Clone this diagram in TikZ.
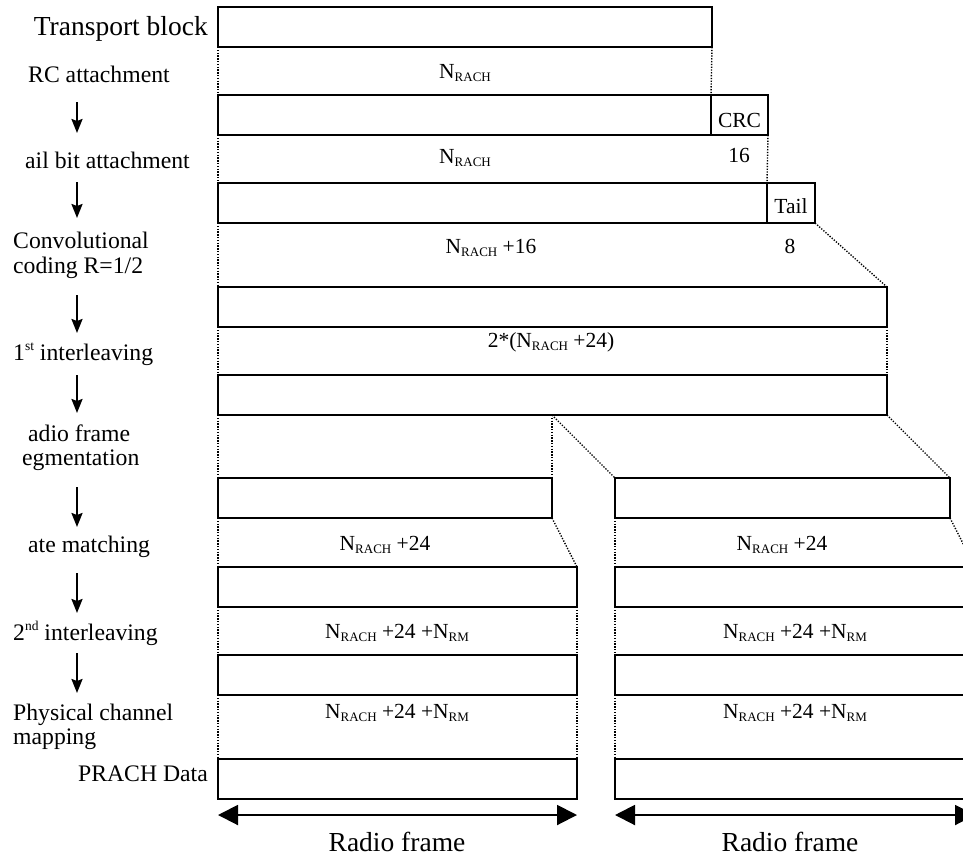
\documentclass[tikz,border=0pt]{standalone}
\usepackage{fontspec}
\setmainfont{Liberation Serif}
\usetikzlibrary{arrows.meta}
\newcommand{\Nx}[1]{N\raisebox{-0.14em}{\fontsize{13}{14}\selectfont #1}}
\newcommand{\supx}[1]{\raisebox{0.42em}{\fontsize{13.5}{14}\selectfont #1}}
\tikzset{
  blk/.style={draw, line width=2pt, inner sep=0pt, outer sep=0pt, minimum height=40pt, anchor=north west},
  dots/.style={line width=1.4pt, dash pattern=on 1.3pt off 1.5pt},
  lbl/.style={font=\fontsize{23.7}{28}\selectfont, inner sep=0pt},
  mid/.style={font=\fontsize{21.5}{26}\selectfont, inner sep=0pt},
  big/.style={font=\fontsize{27.5}{32}\selectfont, inner sep=0pt},
  varrow/.style={line width=2.2pt, -{Stealth[length=14pt,width=11pt,inset=2pt]}},
  harrow/.style={line width=2pt, {Triangle[length=20pt,width=20pt]}-{Triangle[length=20pt,width=20pt]}}
}
\begin{document}
\begin{tikzpicture}[x=1pt,y=-1pt]
\useasboundingbox (0,0) rectangle (963,857);
\fill[white] (0,0) rectangle (963,857);
\clip (0,0) rectangle (963,857);
% boxes
\node[blk, minimum width=494pt] (tb) at (218,7) {};
\node[blk, minimum width=493pt] (r2) at (218,95) {};
\node[blk, minimum width=57pt] (crc) at (711,95) {};
\node[blk, minimum width=549pt] (r3) at (218,183) {};
\node[blk, minimum width=48pt] (tail) at (767,183) {};
\node[blk, minimum width=669pt] (r4) at (218,287) {};
\node[blk, minimum width=669pt] (r5) at (218,375) {};
\node[blk, minimum width=334pt] (r6a) at (218,478) {};
\node[blk, minimum width=335pt] (r6b) at (615,478) {};
\node[blk, minimum width=359pt] (r7a) at (218,567) {};
\node[blk, minimum width=360pt] (r7b) at (615,567) {};
\node[blk, minimum width=359pt] (r8a) at (218,655) {};
\node[blk, minimum width=360pt] (r8b) at (615,655) {};
\node[blk, minimum width=359pt] (r9a) at (218,759) {};
\node[blk, minimum width=360pt] (r9b) at (615,759) {};
\coordinate (split) at (552,415);
% box texts
\node[mid, anchor=base] (crct) at (739.5,127) {CRC};
\node[mid, anchor=base] (tailt) at (791,213) {Tail};
% dotted connectors
\draw[dots] (tb.south west) -- (r2.north west);
\draw[dots] (tb.south east) -- (crc.north west);
\draw[dots] (r2.south west) -- (r3.north west);
\draw[dots] (crc.south east) -- (tail.north west);
\draw[dots] (r3.south west) -- (r4.north west);
\draw[dots] (tail.south east) -- (r4.north east);
\draw[dots] (r4.south west) -- (r5.north west);
\draw[dots] (r4.south east) -- (r5.north east);
\draw[dots] (r5.south west) -- (r6a.north west);
\draw[dots] (split) -- (r6a.north east);
\draw[dots] (split) -- (r6b.north west);
\draw[dots] (r5.south east) -- (r6b.north east);
\draw[dots] (r6a.south west) -- (r7a.north west);
\draw[dots] (r6a.south east) -- (r7a.north east);
\draw[dots] (r6b.south west) -- (r7b.north west);
\draw[dots] (r6b.south east) -- (r7b.north east);
\draw[dots] (r7a.south west) -- (r8a.north west);
\draw[dots] (r7a.south east) -- (r8a.north east);
\draw[dots] (r7b.south west) -- (r8b.north west);
\draw[dots] (r7b.south east) -- (r8b.north east);
\draw[dots] (r8a.south west) -- (r9a.north west);
\draw[dots] (r8a.south east) -- (r9a.north east);
\draw[dots] (r8b.south west) -- (r9b.north west);
\draw[dots] (r8b.south east) -- (r9b.north east);
% size labels
\node[mid, anchor=base] (s1) at (465,78) {\Nx{RACH}};
\node[mid, anchor=base] (s2) at (465,163) {\Nx{RACH}};
\node[mid, anchor=base] (s2b) at (739,162) {16};
\node[mid, anchor=base] (s3) at (491,253) {\Nx{RACH} +16};
\node[mid, anchor=base] (s3b) at (790,253) {8};
\node[mid, anchor=base] (s4) at (551,347) {2*(\Nx{RACH} +24)};
\node[mid, anchor=base] (s6a) at (385,550) {\Nx{RACH} +24};
\node[mid, anchor=base] (s6b) at (782,550) {\Nx{RACH} +24};
\node[mid, anchor=base] (s7a) at (397,638) {\Nx{RACH} +24 +\Nx{RM}};
\node[mid, anchor=base] (s7b) at (795,638) {\Nx{RACH} +24 +\Nx{RM}};
\node[mid, anchor=base] (s8a) at (397,718) {\Nx{RACH} +24 +\Nx{RM}};
\node[mid, anchor=base] (s8b) at (795,718) {\Nx{RACH} +24 +\Nx{RM}};
% left labels
\node[big, anchor=base east] (l0) at (208,35) {Transport block};
\node[lbl, anchor=base west] (l1) at (28,82) {RC attachment};
\node[lbl, anchor=base west] (l2) at (25,168) {ail bit attachment};
\node[lbl, anchor=base west] (l3a) at (13,248) {Convolutional};
\node[lbl, anchor=base west] (l3b) at (13,273) {coding R=1/2};
\node[lbl, anchor=base west] (l4) at (13,360) {1\supx{st} interleaving};
\node[lbl, anchor=base west] (l5a) at (28,441) {adio frame};
\node[lbl, anchor=base west] (l5b) at (22,465) {egmentation};
\node[lbl, anchor=base west] (l6) at (28,552) {ate matching};
\node[lbl, anchor=base west] (l7) at (13,640) {2\supx{nd} interleaving};
\node[lbl, anchor=base west] (l8a) at (13,720) {Physical channel};
\node[lbl, anchor=base west] (l8b) at (13,744) {mapping};
\node[lbl, anchor=base east] (l9) at (208,781) {PRACH Data};
% vertical arrows
\coordinate (a1s) at (77,102); \coordinate (a1e) at (77,133);
\coordinate (a2s) at (77,182); \coordinate (a2e) at (77,218);
\coordinate (a3s) at (77,295); \coordinate (a3e) at (77,333);
\coordinate (a4s) at (77,375); \coordinate (a4e) at (77,413);
\coordinate (a5s) at (77,487); \coordinate (a5e) at (77,527);
\coordinate (a6s) at (77,573); \coordinate (a6e) at (77,613);
\coordinate (a7s) at (77,653); \coordinate (a7e) at (77,693);
\draw[varrow] (a1s) -- (a1e);
\draw[varrow] (a2s) -- (a2e);
\draw[varrow] (a3s) -- (a3e);
\draw[varrow] (a4s) -- (a4e);
\draw[varrow] (a5s) -- (a5e);
\draw[varrow] (a6s) -- (a6e);
\draw[varrow] (a7s) -- (a7e);
% radio frame arrows
\coordinate (f1) at (218,815); \coordinate (f2) at (577,815);
\coordinate (f3) at (615,815); \coordinate (f4) at (975,815);
\draw[harrow] (f1) -- (f2);
\draw[harrow] (f3) -- (f4);
\node[big, anchor=base] (rf1) at (397,851) {Radio frame};
\node[big, anchor=base] (rf2) at (790,851) {Radio frame};
\end{tikzpicture}
\end{document}
